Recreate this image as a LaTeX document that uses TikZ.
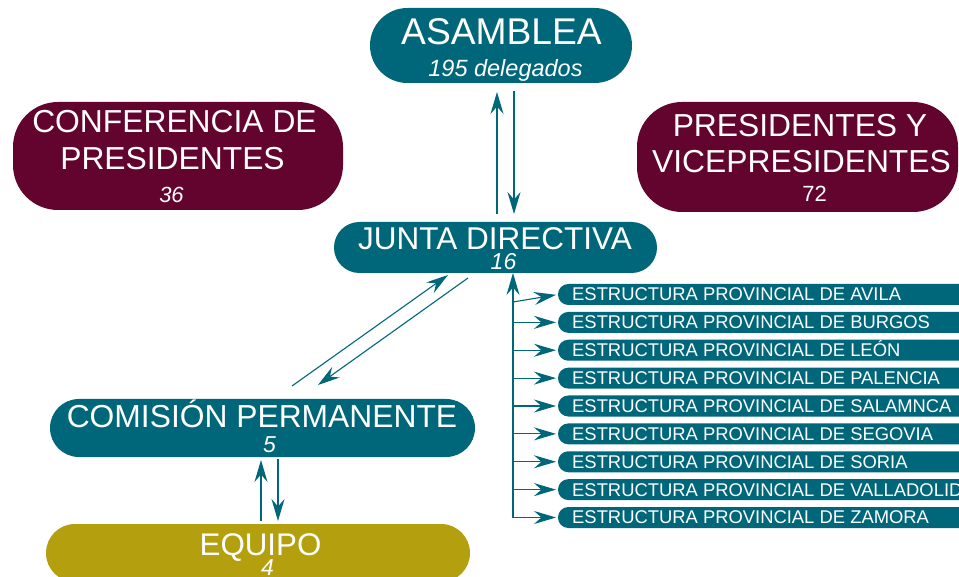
\documentclass[tikz,border=0pt]{standalone}
\usepackage{fontspec}
\setmainfont{Liberation Sans}
\usetikzlibrary{arrows.meta}
\definecolor{tealc}{RGB}{0,102,122}
\definecolor{maroonc}{RGB}{99,4,46}
\definecolor{goldc}{RGB}{180,160,14}
\tikzset{
  pill/.style={inner sep=0pt, outer sep=0pt, draw=none},
  wt/.style={text=white, inner sep=0pt, anchor=base},
  arr/.style={draw=tealc, line width=1.1pt, -{Stealth[length=22pt,width=13pt,inset=7.5pt]}},
  estr/.style={pill, fill=tealc, anchor=west, minimum width=460pt, minimum height=21pt, rounded corners=10.4pt},
  estt/.style={text=white, inner sep=0pt, anchor=base west, font=\fontsize{18.4}{20}\selectfont},
}
\begin{document}
\begin{tikzpicture}[x=1pt, y=-1pt]
\useasboundingbox (0,0) rectangle (959,577);
\clip (0,0) rectangle (959,577);
% boxes
\node[pill, fill=tealc, minimum width=262pt, minimum height=75pt, rounded corners=37.4pt] (asam) at (501,45.5) {};
\node[pill, fill=tealc, minimum width=323pt, minimum height=51pt, rounded corners=25.4pt] (junta) at (495.5,247.5) {};
\node[pill, fill=maroonc, minimum width=330pt, minimum height=108pt, rounded corners=45pt] (conf) at (178,156) {};
\node[pill, fill=maroonc, minimum width=321pt, minimum height=110pt, rounded corners=45pt] (pres) at (797.5,157) {};
\node[pill, fill=tealc, minimum width=425pt, minimum height=58pt, rounded corners=28.9pt] (comi) at (262.5,428) {};
\node[pill, fill=goldc, minimum width=424pt, minimum height=58pt, rounded corners=28.9pt] (equi) at (258,553) {};
% texts
\node[wt, font=\fontsize{37.2}{40}\selectfont] (asamT) at (501.5,45) {ASAMBLEA};
\node[wt, font=\fontsize{23.5}{26}\selectfont\itshape] (asamN) at (505.5,77) {195 delegados};
\node[wt, font=\fontsize{31.5}{34}\selectfont] (juntaT) at (495,250) {JUNTA DIRECTIVA};
\node[wt, font=\fontsize{23}{26}\selectfont\itshape] (juntaN) at (503.5,270) {16};
\node[wt, font=\fontsize{31.8}{34}\selectfont] (confT1) at (174.5,133) {CONFERENCIA DE};
\node[wt, font=\fontsize{31.8}{34}\selectfont] (confT2) at (172.5,170) {PRESIDENTES};
\node[wt, font=\fontsize{22}{24}\selectfont\itshape] (confN) at (171.5,203) {36};
\node[wt, font=\fontsize{31.8}{34}\selectfont] (presT1) at (800,137) {PRESIDENTES Y};
\node[wt, font=\fontsize{31.8}{34}\selectfont] (presT2) at (801.5,173) {VICEPRESIDENTES};
\node[wt, font=\fontsize{22}{24}\selectfont] (presN) at (814.5,202) {72};
\node[wt, font=\fontsize{31.8}{34}\selectfont] (comiT) at (262,428) {COMISIÓN PERMANENTE};
\node[wt, font=\fontsize{23}{26}\selectfont\itshape] (comiN) at (269.5,452) {5};
\node[wt, font=\fontsize{31.3}{34}\selectfont] (equiT) at (260.5,555) {EQUIPO};
\node[wt, font=\fontsize{23}{26}\selectfont\itshape] (equiN) at (267.5,575) {4};
% estructuras
\foreach \t [count=\i, evaluate=\i as \yc using 294.5+27.875*(\i-1)] in
  {AVILA,BURGOS,LEÓN,PALENCIA,SALAMNCA,SEGOVIA,SORIA,VALLADOLID,ZAMORA}{
  \node[estr] (e\i) at (558,\yc) {};
  \node[estt] (et\i) at (572,\yc+6.4) {ESTRUCTURA PROVINCIAL DE \t};
}
% connectors Asamblea - Junta
\coordinate (aj1) at (497,214);
\coordinate (aj1t) at (497,92);
\coordinate (aj2) at (514,91);
\coordinate (aj2t) at (514,214);
\draw[arr] (aj1) -- (aj1t);
\draw[arr] (aj2) -- (aj2t);
% Junta - Comision
\coordinate (jc1) at (292,386);
\coordinate (jc1t) at (448,275);
\coordinate (jc2) at (468,278);
\coordinate (jc2t) at (318,385);
\draw[arr] (jc1) -- (jc1t);
\draw[arr] (jc2) -- (jc2t);
% Comision - Equipo
\coordinate (ce1) at (261,521);
\coordinate (ce1t) at (261,460);
\coordinate (ce2) at (278,459);
\coordinate (ce2t) at (278,521);
\draw[arr] (ce1) -- (ce1t);
\draw[arr] (ce2) -- (ce2t);
% Junta - estructuras
\coordinate (vb) at (513,517.5);
\draw[arr] (vb) -- (vb |- junta.south);
\coordinate (va) at (513,302);
\draw[arr, shorten >=2pt] (va) -- (e1.west);
\foreach \i in {2,...,9}{
  \draw[arr, shorten >=2pt] (vb |- e\i.west) -- (e\i.west);
}
\end{tikzpicture}
\end{document}
